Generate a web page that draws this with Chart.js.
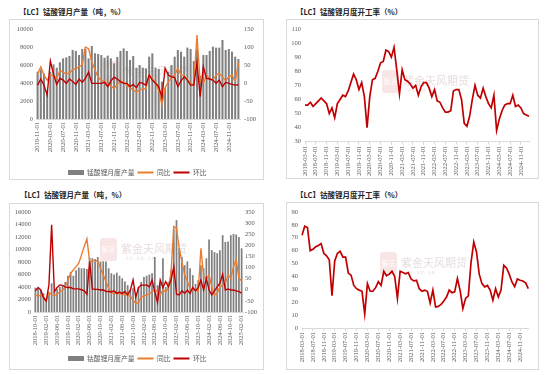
<!DOCTYPE html>
<html><head><meta charset="utf-8">
<script src="https://cdn.jsdelivr.net/npm/chart.js@4.4.1/dist/chart.umd.min.js"></script>
<style>
html,body{margin:0;padding:0;background:#fff;width:550px;height:375px;overflow:hidden;position:relative}
.box{position:absolute;border:1px solid #d9d9d9;box-sizing:border-box;background:#fff}
.ttl{position:absolute;font-family:"Noto Sans CJK SC";font-weight:bold;font-size:7.5px;color:#262626;white-space:nowrap;line-height:1}
.cv{position:absolute}
</style></head><body>
<div class="box" style="left:9px;top:19px;width:255px;height:161px"></div>
<div class="box" style="left:286px;top:19px;width:253px;height:160px"></div>
<div class="box" style="left:9px;top:203px;width:255px;height:167px"></div>
<div class="box" style="left:286px;top:202px;width:253px;height:168px"></div>
<div class="ttl" style="left:19px;top:8px">【LC】锰酸锂月产量（吨，%）</div>
<div class="ttl" style="left:296px;top:8px">【LC】锰酸锂月度开工率（%）</div>
<div class="ttl" style="left:20px;top:191px">【LC】钴酸锂月产量（吨，%）</div>
<div class="ttl" style="left:296px;top:191px">【LC】钴酸锂月度开工率（%）</div>
<canvas id="c1" class="cv" width="254" height="167" style="left:10px;top:19px"></canvas>
<canvas id="c2" class="cv" width="252" height="160" style="left:287px;top:19px"></canvas>
<canvas id="c3" class="cv" width="254" height="168" style="left:10px;top:204px"></canvas>
<canvas id="c4" class="cv" width="252" height="165" style="left:287px;top:204px"></canvas>
<script>
// ---------- categories ----------
function months(y, m, n){const a=[];for(let i=0;i<n;i++){const yy=y+Math.floor((m-1+i)/12),mm=(m-1+i)%12+1;a.push(yy+'-'+String(mm).padStart(2,'0')+'-01');}return a;}
const mnMonths = months(2019, 11, 64);      // 锰酸锂产量 2019-11 .. 2025-02
const mnRateMonths = months(2018, 3, 84);   // 锰酸锂开工率 2018-03 .. 2025-02
const coMonths = months(2018, 10, 77);      // 钴酸锂产量 2018-10 .. 2025-02
const coRateMonths = months(2018, 3, 84);   // 钴酸锂开工率 2018-03 .. 2025-02

// ---------- series ----------
const mnOutput = [5260,5500,5070,3040,5260,6070,5700,6300,6740,6850,
 7000,7670,7560,7110,7780,7780,6740,8110,7300,7220,
 7110,6810,7040,6740,6190,6890,7560,7850,7560,6560,
 7000,5700,6000,5700,5630,6930,7300,5700,5560,4150,
 3480,5260,6000,6930,7670,7480,6930,7930,7780,6440,
 7800,4800,7110,7110,7560,8040,7930,7930,8780,7670,
 7780,7480,6930,6670];
const mnYoY = [25,45,22,8,22,20,13,34,30,25,
 28,37,40,45,50,100,95,59,37,15,
 8,4,-1,-8,-16,-4,4,2,-6,-13,
 -19,-25,-19,-17,-15,22,13,-1,-19,-60,
 -13,4,13,22,41,22,20,8,-1,-6,
 133,4,-1,22,11,8,22,27,17,6,
 17,22,4,55];
const mnMoM = [-6,11,-6,-33,61,24,-4,13,8,-1,
 11,4,-4,11,2,13,30,-1,-1,-1,
 -1,2,-10,6,16,11,4,-1,-1,-10,
 -4,-13,2,-1,-6,22,8,-1,-10,-40,
 41,22,17,15,-10,6,17,8,-6,-6,
 56,-38,45,13,11,8,-1,8,-10,2,
 -1,-4,-6,-5];
const mnRate = [56,56,58,55,57,59,61,59,57,50,
 54,47,57,60,63,62,66,72,78,74,
 67,72,62,40,62,74,75,80,86,87,
 95,94,90,97,81,64,81,74,73,71,
 68,70,63,69,72,72,68,62,67,59,
 58,54,51,51,52,66,67,67,60,43,
 41,48,60,70,63,61,68,62,57,54,
 63,38,46,52,56,57,57,63,55,56,
 54,50,49,48];
const coOutput = [3900,3700,3500,3000,1800,3000,4600,3400,3700,4000,
 4200,4800,5800,6400,5800,6700,7100,7000,7000,6900,
 8700,8600,8500,8800,8100,8100,8100,7000,6200,6000,
 6300,5800,5400,4900,4300,3500,3800,3000,4000,4800,
 5600,5800,6000,6200,8800,4300,4500,8600,4000,4800,
 6700,13300,14700,10200,8800,7500,8100,7000,5900,4500,
 5100,7500,7000,8600,11600,9900,9600,9400,9900,12300,
 11200,11300,12300,12500,12400,12000,10200];
const coYoY = [-23,-28,-25,-33,-50,-11,-23,-25,-20,-10,
 -1,13,44,74,90,104,120,157,195,229,
 127,130,134,127,97,67,37,7,-16,-16,
 -16,-18,-20,-22,-25,-30,-46,-61,-57,-33,
 -28,-23,-18,-8,-1,-10,-23,-1,-10,10,
 80,285,277,187,127,67,37,7,-1,2,
 -8,187,60,50,67,13,-23,-16,13,22,
 29,67,52,104,134,52,40];
const coMoM = [-5,10,-1,-36,-50,22,292,-8,10,22,
 20,13,10,10,4,4,4,0,-5,-20,
 127,4,2,2,-1,0,-8,-8,-10,-5,
 -16,-10,-16,-8,-23,-2,44,-33,10,22,
 20,22,13,44,-8,-57,44,10,37,13,
 44,104,-20,-23,-5,-16,-1,-16,10,-5,
 10,44,-1,51,-1,-23,-5,13,30,70,
 -1,4,-1,-1,-5,-8,-15];
const coRate = [72,79,78,60,61,63,64,65.5,58,56,
 53,25,52,58,59.5,55,55,42.5,41,33,
 30.5,29.4,28.5,11,34.4,28.5,28.5,31.3,36,33,
 44,40.5,41.8,44,40,23,44,43,42,43,
 38,36.5,37,30.5,28.5,29.4,28.5,19.4,29.4,16.3,
 16.8,18.3,21,24,29.4,27.4,28,38.3,29,15,
 23,25,51,66.7,59,41.8,34.4,31.9,33,29.4,
 21.5,30.5,24,29.4,48.6,46.6,41.8,35.7,32,38,
 37,36.5,35,30.5];

// ---------- style ----------
const BAR='#808080', ORANGE='#ED7D31', RED='#C00000';
Chart.defaults.font.family='"Liberation Serif", serif';
Chart.defaults.font.size=6.5;
Chart.defaults.color='#595959';
Chart.defaults.animation=false;
Chart.defaults.responsive=false;
Chart.defaults.devicePixelRatio=1;
Chart.defaults.plugins.tooltip.enabled=false;

const plainNum=v=>String(v);

const barSwatch=document.createElement('canvas');
barSwatch.width=16;barSwatch.height=5;
(function(){const g=barSwatch.getContext('2d');g.fillStyle=BAR;g.fillRect(0,0,16,5);})();

function genLabels(chart){
  return chart.data.datasets.map((ds,i)=>({
    text:ds.label,
    fillStyle:ds.type==='bar'?ds.backgroundColor:'rgba(0,0,0,0)',
    strokeStyle:ds.type==='bar'?ds.backgroundColor:ds.borderColor,
    lineWidth:ds.type==='bar'?0:2,
    pointStyle:ds.type==='bar'?barSwatch:'line',
    hidden:false,datasetIndex:i,fontColor:'#595959'
  }));
}
const every4=s=>{s.ticks=s.ticks.filter(t=>t.value%4===0);};

const watermark={
  id:'wm',
  beforeDatasetsDraw(chart,args,o){
    const ctx=chart.ctx;ctx.save();
    ctx.fillStyle='rgba(215,110,110,0.18)';
    ctx.beginPath();ctx.roundRect(o.x,o.y,17,23,3);ctx.fill();
    ctx.fillStyle='rgba(255,255,255,0.7)';
    ctx.font='bold 7px "Noto Sans CJK SC"';ctx.textBaseline='middle';ctx.textAlign='center';
    ctx.fillText('紫天',o.x+8.5,o.y+11.5);
    ctx.fillStyle='rgba(175,140,140,0.30)';
    ctx.font='11px "Noto Sans CJK SC"';ctx.textAlign='left';
    ctx.fillText('紫金天风期货',o.x+21,o.y+11);
    ctx.font='3px "Noto Sans CJK SC"';
    ctx.fillText('专 业 · 稳 健 · 创 新',o.x+26,o.y+21);
    ctx.restore();
  }
};

function barChart(id,labels,bars,yoy,mom,barLabel,cfg){
  return new Chart(document.getElementById(id),{
    data:{labels,datasets:[
      {type:'bar',label:barLabel,data:bars,backgroundColor:BAR,barPercentage:0.64,categoryPercentage:1,yAxisID:'y',order:2},
      {type:'line',label:'同比',data:yoy,borderColor:ORANGE,borderWidth:1.4,pointRadius:0,yAxisID:'y1',order:1},
      {type:'line',label:'环比',data:mom,borderColor:RED,borderWidth:1.4,pointRadius:0,yAxisID:'y1',order:0}
    ]},
    options:{
      layout:{padding:{top:cfg.top,left:0,right:0,bottom:0}},
      scales:{
        x:{type:'category',offset:true,grid:{display:false,drawTicks:false},border:{display:true,color:'#d9d9d9'},
           ticks:{autoSkip:false,minRotation:90,maxRotation:90,padding:3},afterBuildTicks:every4,afterFit:s=>{s.height=cfg.xh;}},
        y:{position:'left',min:0,max:cfg.lmax,ticks:{stepSize:cfg.lstep,padding:3,callback:plainNum},grid:{display:false,drawTicks:false},border:{display:false},afterFit:s=>{s.width=cfg.lw;}},
        y1:{position:'right',min:-100,max:cfg.rmax,ticks:{stepSize:50,padding:cfg.rpad,callback:plainNum},grid:{display:false,drawTicks:false},border:{display:false},afterFit:s=>{s.width=cfg.rw;}}
      },
      plugins:{
        legend:{position:'bottom',labels:{usePointStyle:true,pointStyleWidth:16,padding:3,font:{family:'"Noto Sans CJK SC"',size:6.8},color:'#595959',generateLabels:genLabels}},
        wm:cfg.wm
      }
    },
    plugins:[watermark]
  });
}

function rateChart(id,labels,data,cfg){
  return new Chart(document.getElementById(id),{
    type:'line',
    data:{labels,datasets:[{label:'开工率',data,borderColor:RED,borderWidth:1.7,pointRadius:0}]},
    options:{
      layout:{padding:{top:cfg.top,left:0,right:cfg.right,bottom:0}},
      scales:{
        x:{offset:false,grid:{display:true,drawOnChartArea:false,drawTicks:true,tickLength:3,color:'#d9d9d9'},border:{display:true,color:'#d9d9d9'},
           ticks:{autoSkip:false,minRotation:90,maxRotation:90,padding:1},afterBuildTicks:every4,afterFit:s=>{s.height=cfg.xh;}},
        y:{min:cfg.min,max:cfg.max,ticks:{stepSize:10,padding:4,callback:plainNum},grid:{display:false,drawTicks:false},border:{display:false},afterFit:s=>{s.width=cfg.yw;}}
      },
      plugins:{legend:{display:false},wm:cfg.wm}
    },
    plugins:[watermark]
  });
}

barChart('c1',mnMonths,mnOutput,mnYoY,mnMoM,'锰酸锂月度产量',
  {top:10,xh:47.2,lmax:10000,lstep:1000,lw:26,rmax:150,rw:24,rpad:4,wm:{x:93,y:42}});
rateChart('c2',mnRateMonths,mnRate,{top:10,right:10,xh:37.3,min:30,max:110,yw:18,wm:{x:95,y:51}});
barChart('c3',coMonths,coOutput,coYoY,coMoM,'钴酸锂月度产量',
  {top:8,xh:40.2,lmax:16000,lstep:2000,lw:24,rmax:350,rw:21,rpad:2,wm:{x:90,y:34}});
rateChart('c4',coRateMonths,coRate,{top:8,right:10.7,xh:41,min:0,max:90,yw:15,wm:{x:93,y:48}});
</script>
</body></html>
